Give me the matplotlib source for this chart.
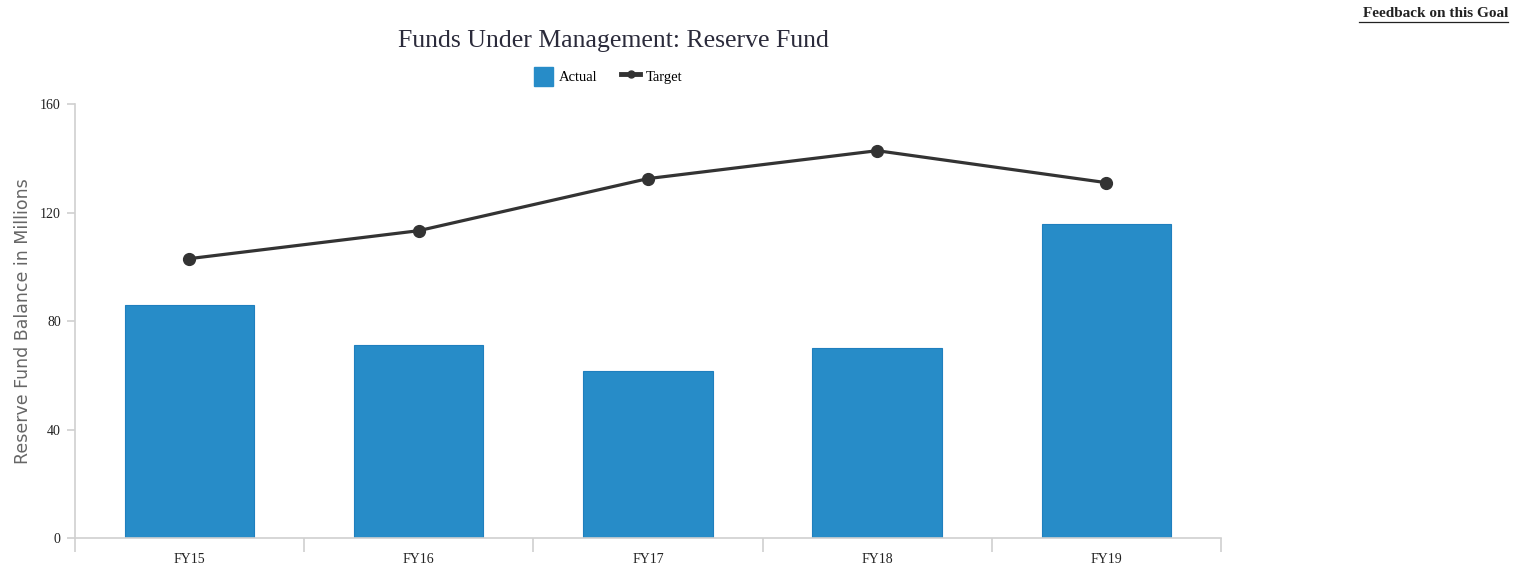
import matplotlib
matplotlib.use("Agg")
import matplotlib.pyplot as plt
from matplotlib.lines import Line2D
from matplotlib.patches import Patch

# Data
years = ["FY15", "FY16", "FY17", "FY18", "FY19"]
actual = [85.8, 71.3, 61.6, 69.9, 115.8]
target = [103.0, 113.3, 132.5, 142.8, 131.0]
y_ticks = [0, 40, 80, 120, 160]

bar_color = "#278cc8"
line_color = "#333333"
axis_gray = "#d0d0d0"

fig = plt.figure(figsize=(15.25, 5.7), dpi=100)
ax = fig.add_axes([0.049, 0.0561, 0.7517, 0.7614])

x = list(range(len(years)))
ax.bar(x, actual, width=0.565, color=bar_color, edgecolor="#1f7fbe",
       linewidth=0.8, zorder=2)
ax.plot(x, target, color=line_color, lw=2.3, marker="o", markersize=8.5,
        zorder=3)

ax.set_xlim(-0.5, len(years) - 0.5)
ax.set_ylim(0, 160)

# x axis: tick marks at category boundaries, labels at centers
ax.set_xticks([i - 0.5 for i in range(len(years) + 1)])
ax.set_xticklabels([])
ax.set_xticks(x, minor=True)
ax.set_xticklabels(years, minor=True, family="Liberation Serif",
                   fontsize=10, color="#222222")
ax.tick_params(axis="x", which="major", length=10, width=1.2,
               color=axis_gray, direction="out")
ax.tick_params(axis="x", which="minor", length=0, pad=11)

ax.set_yticks(y_ticks)
ax.set_yticklabels([str(v) for v in y_ticks], family="Liberation Serif",
                   fontsize=10, color="#222222")
ax.tick_params(axis="y", length=6, width=1.2, color=axis_gray, pad=4)

for side in ["top", "right"]:
    ax.spines[side].set_visible(False)
for side in ["left", "bottom"]:
    ax.spines[side].set_color(axis_gray)
    ax.spines[side].set_linewidth(1.2)

ax.set_ylabel("Reserve Fund Balance in Millions", family="DejaVu Sans",
              fontsize=12.5, color="#666666", labelpad=6)

# title and legend
fig.text(0.402, 0.928, "Funds Under Management: Reserve Fund",
         family="Liberation Serif", fontsize=18.5, color="#2b2b3b",
         ha="center", va="center")

handles = [
    Patch(facecolor=bar_color, edgecolor=bar_color),
    Line2D([0], [0], color=line_color, lw=3.5, marker="o", markersize=5),
]
fig.legend(handles, ["Actual", "Target"], loc="center",
           bbox_to_anchor=(0.399, 0.866), ncol=2, frameon=False,
           prop={"family": "Liberation Serif", "size": 10.5},
           handlelength=1.3, handleheight=1.6, handletextpad=0.4,
           columnspacing=1.6)

# feedback link, top right
fig.text(0.989, 0.977, "Feedback on this Goal", family="Liberation Serif",
         fontsize=11, weight="bold", color="#222222", ha="right", va="center")
fig.add_artist(Line2D([0.891, 0.989], [0.961, 0.961], color="#222222",
                      lw=0.9, transform=fig.transFigure))

fig.savefig("out.png", dpi=100)
